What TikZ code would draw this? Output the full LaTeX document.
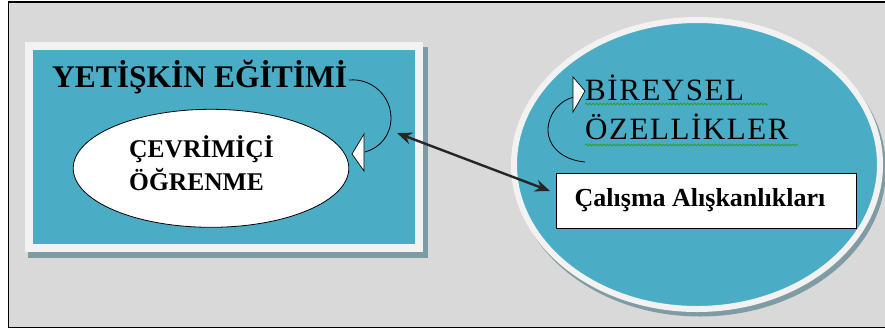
\documentclass[tikz,border=0pt]{standalone}
\usepackage{fontspec}
\setmainfont{Liberation Serif}
\usetikzlibrary{shapes.geometric,decorations.pathmorphing,arrows.meta}
\definecolor{tealfill}{HTML}{4BACC6}
\definecolor{bgcol}{HTML}{D9D9D9}
\definecolor{rimcol}{HTML}{F2F2F2}
\definecolor{shadecol}{HTML}{7F9BA3}
\definecolor{wavycol}{HTML}{2E9E2E}
\definecolor{arrowcol}{HTML}{262626}
\begin{document}
\begin{tikzpicture}[x=1pt,y=-1pt,
  txt/.style={anchor=base west,inner sep=0pt},
  titlefont/.style={font=\fontsize{31.5}{31.5}\selectfont\bfseries},
  ellfont/.style={font=\fontsize{25.5}{25.5}\selectfont\bfseries},
  rightfont/.style={font=\fontsize{31}{31}\selectfont\addfontfeature{LetterSpace=5}},
  loop/.style={line width=0.8pt},
  openhead/.style={draw=black,fill=white,line width=0.7pt,line join=miter},
  squiggle/.style={wavycol,line width=0.8pt,decorate,decoration={snake,amplitude=0.9pt,segment length=3.5pt}}]
\useasboundingbox (0,0) rectangle (885,333);
\fill[white] (0,0) rectangle (885,333);
\fill[bgcol] (8,2) rectangle (885,328);
\draw[line width=1.8pt] (885,2) -- (8.5,2) -- (8.5,327.5) -- (885,327.5);

% left panel
\fill[shadecol] (28,47) rectangle (428,258);
\node[rectangle,draw=rimcol,fill=tealfill,line width=8pt,minimum width=390pt,minimum height=202pt,inner sep=0pt] (panel) at (224,147) {};
\node[txt,titlefont] (title) at (52,87) {YETİŞKİN EĞİTİMİ};
\node[ellipse,draw=black,fill=white,line width=0.8pt,minimum width=275.6pt,minimum height=118pt,inner sep=0pt] (online) at (211,168.3) {};
\node[txt,ellfont] (on1) at (129,157) {ÇEVRİMİÇİ};
\node[txt,ellfont] (on2) at (129,190) {ÖĞRENME};

% left loop arrow
\coordinate (l1s) at (349,80);
\coordinate (l1m) at (391,118);
\coordinate (l1e) at (365,152);
\draw[loop] (l1s) .. controls (372,78) and (391,96) .. (l1m) .. controls (391,135) and (380,148) .. (l1e);
\coordinate (h1tip) at (352,154);
\coordinate (h1a) at (364,134);
\coordinate (h1b) at (364,171);
\draw[openhead] (h1tip) -- (h1a) -- (h1b) -- cycle;

% right oval
\fill[shadecol] (700,169) ellipse [x radius=186pt, y radius=147.5pt];
\node[ellipse,draw=rimcol,fill=tealfill,line width=6pt,minimum width=366pt,minimum height=289pt,inner sep=0pt] (indiv) at (697,164.5) {};
\node[txt,rightfont] (ind1) at (585,100) {BİREYSEL};
\node[txt,rightfont] (ind2) at (585,139) {ÖZELLİKLER};
\draw[squiggle] (585,104) -- (768,104);
\draw[squiggle] (585,145) -- (798,145);

% right loop arrow
\coordinate (l2s) at (585,162);
\coordinate (l2m) at (548,130);
\coordinate (l2e) at (574,97);
\draw[loop] (l2s) .. controls (562,160) and (548,146) .. (l2m) .. controls (548,114) and (560,100) .. (l2e);
\coordinate (h2tip) at (585,91);
\coordinate (h2a) at (573,77);
\coordinate (h2b) at (573,112);
\draw[openhead] (h2tip) -- (h2a) -- (h2b) -- cycle;

\node[rectangle,draw=black,fill=white,line width=0.8pt,minimum width=300pt,minimum height=55pt,inner sep=0pt,font=\fontsize{26}{26}\selectfont\bfseries] (habit) at (706,200.5) {Çalışma Alışkanlıkları\kern12pt};

% double arrow
\coordinate (d1) at (397,133);
\coordinate (d2) at (550,191);
\draw[arrowcol,line width=2.4pt,{Stealth[length=15pt,width=12pt]}-{Stealth[length=15pt,width=12pt]}] (d1) -- (d2);
\end{tikzpicture}
\end{document}
